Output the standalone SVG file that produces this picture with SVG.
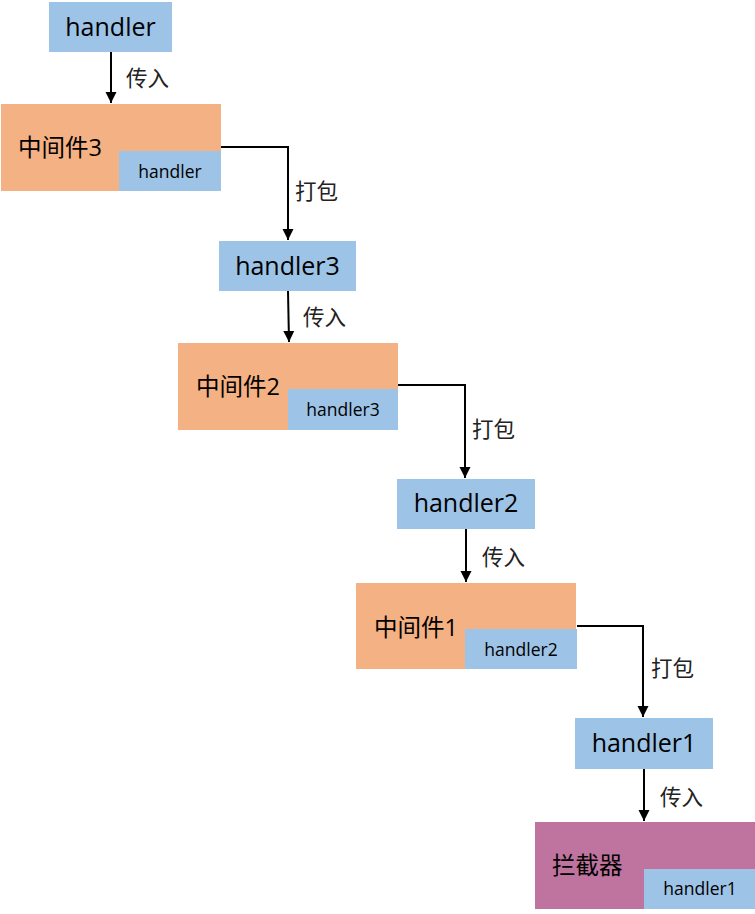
<svg xmlns="http://www.w3.org/2000/svg" width="755" height="914" viewBox="0 0 755 914">
<defs>
<style>
.blue{fill:#9DC3E6}
.orange{fill:#F4B183}
.purple{fill:#BF739F}
.big{font-family:"Open Sans","Noto Sans CJK SC",sans-serif;font-size:25px;fill:#000;text-anchor:middle}
.small{font-family:"Open Sans","Noto Sans CJK SC",sans-serif;font-size:17.5px;fill:#000;text-anchor:middle}
.cjk{font-family:"Open Sans","Noto Sans CJK SC",sans-serif;font-size:23.5px;fill:#000}
.lbl{font-family:"Noto Sans CJK SC",sans-serif;font-size:21.5px;fill:#222}
.edge{fill:none;stroke:#000;stroke-width:2}
</style>
<marker id="arr" markerWidth="12" markerHeight="12" refX="11" refY="6" orient="auto" markerUnits="userSpaceOnUse">
<path d="M0,0.5 L11,6 L0,11.5 Z" fill="#000"/>
</marker>
</defs>
<g id="connectors">
<path class="edge" d="M111,52 L111,103" marker-end="url(#arr)"/>
<path class="edge" d="M221,147 L288,147 L288,240" marker-end="url(#arr)"/>
<path class="edge" d="M288,291 L289,342" marker-end="url(#arr)"/>
<path class="edge" d="M398,385 L465,385 L465,478" marker-end="url(#arr)"/>
<path class="edge" d="M466,529 L466,582" marker-end="url(#arr)"/>
<path class="edge" d="M577,626 L643,626 L643,717" marker-end="url(#arr)"/>
<path class="edge" d="M644,769 L644,821" marker-end="url(#arr)"/>
<text class="lbl" x="126" y="86">传入</text>
<text class="lbl" x="295" y="199">打包</text>
<text class="lbl" x="303" y="325">传入</text>
<text class="lbl" x="472" y="437">打包</text>
<text class="lbl" x="482" y="565">传入</text>
<text class="lbl" x="651" y="676">打包</text>
<text class="lbl" x="660" y="805">传入</text>
</g>
<g id="handler">
<rect class="blue" x="49" y="2" width="123" height="50"/>
<text class="big" x="110.5" y="36">handler</text>
</g>
<g id="middleware3">
<rect class="orange" x="1" y="104" width="220" height="87"/>
<text class="cjk" x="18" y="156">中间件3</text>
<rect class="blue" x="119" y="151" width="102" height="40"/>
<text class="small" x="170" y="178">handler</text>
</g>
<g id="handler3">
<rect class="blue" x="219" y="241" width="137" height="50"/>
<text class="big" x="287.5" y="275">handler3</text>
</g>
<g id="middleware2">
<rect class="orange" x="178" y="343" width="220" height="87"/>
<text class="cjk" x="196" y="395">中间件2</text>
<rect class="blue" x="288" y="389" width="110" height="41"/>
<text class="small" x="343" y="416">handler3</text>
</g>
<g id="handler2">
<rect class="blue" x="397" y="479" width="138" height="50"/>
<text class="big" x="466" y="512">handler2</text>
</g>
<g id="middleware1">
<rect class="orange" x="356" y="583" width="220" height="86"/>
<text class="cjk" x="374" y="636">中间件1</text>
<rect class="blue" x="465" y="629" width="112" height="40"/>
<text class="small" x="521" y="656">handler2</text>
</g>
<g id="handler1">
<rect class="blue" x="575" y="718" width="138" height="51"/>
<text class="big" x="644" y="752">handler1</text>
</g>
<g id="interceptor">
<rect class="purple" x="535" y="822" width="220" height="87"/>
<text class="cjk" x="552" y="874">拦截器</text>
<rect class="blue" x="644" y="869" width="111" height="40"/>
<text class="small" x="700" y="895">handler1</text>
</g>
</svg>
